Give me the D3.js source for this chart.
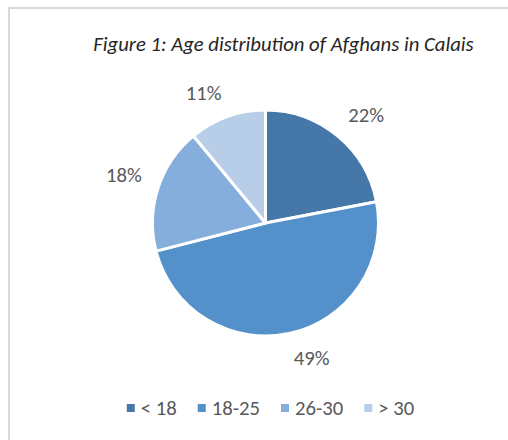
<!DOCTYPE html>
<html>
<head>
<meta charset="utf-8">
<script src="https://cdn.jsdelivr.net/npm/d3@7"></script>
<style>
  html, body { margin: 0; padding: 0; background: #fff; }
  svg { display: block; }
  text { font-family: Carlito, "Open Sans", sans-serif; fill: #595959; }
</style>
</head>
<body>
<svg id="chart" width="508" height="440"></svg>
<script>
// dados do gráfico
const categories = ["< 18", "18-25", "26-30", "> 30"];
const shares = [22, 49, 18, 11];
const colors = ["#4677a9", "#5490c9", "#86aedc", "#b8cde8"];
const title = "Figure 1: Age distribution of Afghans in Calais";

const width = 508, height = 440;
const svg = d3.select("#chart");

// moldura (apenas topo e esquerda visíveis)
svg.append("path")
  .attr("d", "M9,441 L9,8 L509,8")
  .attr("fill", "none")
  .attr("stroke", "#d9d9d9")
  .attr("stroke-width", 2);

// título
svg.append("text")
  .attr("x", 283.5)
  .attr("y", 51)
  .attr("text-anchor", "middle")
  .attr("font-style", "italic")
  .attr("font-size", 20.7)
  .style("fill", "#262626")
  .text(title);

// pizza
const cx = 265.5, cy = 223, r = 113;
const color = d3.scaleOrdinal().domain(categories).range(colors);
const pie = d3.pie().sort(null).value(d => d.value);
const arcs = pie(categories.map((c, i) => ({ cat: c, value: shares[i] })));
const arc = d3.arc().innerRadius(0).outerRadius(r);

const g = svg.append("g").attr("transform", `translate(${cx},${cy})`);

g.selectAll("path")
  .data(arcs)
  .join("path")
  .attr("d", arc)
  .attr("fill", d => color(d.data.cat))
  .attr("stroke", "#fff")
  .attr("stroke-width", 3)
  .attr("stroke-linejoin", "round");

// rótulos de porcentagem: canto mais próximo da caixa fica em r + 17
const fs = 20.7;
const boxH = fs * 0.78;
g.selectAll("text.lbl")
  .data(arcs)
  .join("text")
  .attr("class", "lbl")
  .attr("font-size", fs)
  .attr("text-anchor", "middle")
  .attr("dominant-baseline", "central")
  .text(d => d.data.value + "%")
  .each(function (d) {
    const a = (d.startAngle + d.endAngle) / 2;
    const w = this.getComputedTextLength();
    const s = Math.sin(a), c = Math.cos(a);
    const px = (r + 17) * s, py = -(r + 17) * c;
    const lx = px + Math.sign(s) * w / 2;
    const ly = py - Math.sign(c) * boxH / 2;
    d3.select(this).attr("x", lx).attr("y", ly);
  });

// legenda
const legendY = 408;
const legend = svg.append("g");
const items = legend.selectAll("g")
  .data(categories)
  .join("g");
items.append("rect")
  .attr("width", 8)
  .attr("height", 8)
  .attr("y", legendY - 4)
  .attr("fill", d => color(d));
items.append("text")
  .attr("x", 14)
  .attr("y", legendY)
  .attr("dominant-baseline", "central")
  .attr("font-size", fs)
  .text(d => d);

// distribui a legenda centralizada
let widths = [];
items.each(function () { widths.push(this.getBBox().width); });
const gap = 21;
const total = d3.sum(widths) + gap * (widths.length - 1);
let x = 270.5 - total / 2;
items.each(function (d, i) {
  d3.select(this).attr("transform", `translate(${x},0)`);
  x += widths[i] + gap;
});
</script>
</body>
</html>
